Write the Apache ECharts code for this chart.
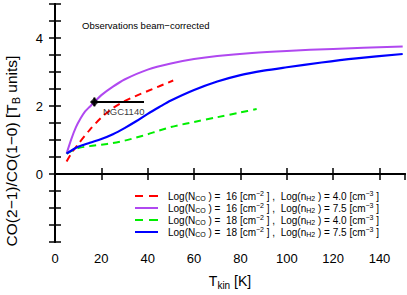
<!DOCTYPE html>
<html>
<head>
<meta charset="utf-8">
<script src="https://cdn.jsdelivr.net/npm/echarts@6/dist/echarts.min.js"></script>
<style>
html,body{margin:0;padding:0;background:#fff;}
#c{width:407px;height:295px;}
</style>
</head>
<body>
<div id="c"></div>
<script>
// ---- data ----
var redT   = [5, 7, 10, 15, 20, 25, 30, 35, 40, 45, 51];
var redV   = [0.37, 0.6, 0.88, 1.3, 1.66, 1.94, 2.14, 2.3, 2.44, 2.58, 2.75];

var purpleT = [5, 7, 9, 11, 13, 15, 17, 20, 25, 30, 40, 50, 60, 70, 85, 100, 120, 150];
var purpleV = [0.6, 1.02, 1.37, 1.63, 1.84, 1.98, 2.12, 2.32, 2.57, 2.78, 3.07, 3.25, 3.38, 3.47, 3.56, 3.62, 3.68, 3.75];

var greenT = [5, 10, 15, 20, 25, 30, 35, 40, 45, 50, 55, 60, 70, 80, 87];
var greenV = [0.6, 0.76, 0.82, 0.86, 0.91, 0.98, 1.07, 1.17, 1.28, 1.38, 1.46, 1.53, 1.67, 1.81, 1.91];

var blueT  = [5, 10, 15, 20, 25, 30, 35, 40, 45, 50, 60, 70, 80, 90, 100, 115, 130, 150];
var blueV  = [0.6, 0.8, 0.92, 1.03, 1.17, 1.35, 1.55, 1.77, 1.97, 2.16, 2.47, 2.72, 2.91, 3.04, 3.14, 3.28, 3.4, 3.53];

var logN   = ['16', '16', '18', '18'];
var logn   = ['4.0', '7.5', '4.0', '7.5'];

var obsName = 'NGC1140';
var obsT = 17, obsV = 2.12;
var obsTlo = 15.7, obsThi = 38.4;
var obsVlo = 1.99, obsVhi = 2.25;

var yLabels = [0, 2, 4];
var xLabels = [0, 20, 40, 60, 80, 100, 120, 140];

// ---- build ----
function pairs(t, v){ return t.map(function(x,i){ return [x, v[i]]; }); }
var names = logN.map(function(n,i){ return 'Log(NCO) = ' + n + ', Log(nH2) = ' + logn[i]; });
var dashedIcon = 'path://M0,0h8v2h-8zM14,0h9v2h-9z';
var solidIcon = 'path://M0,0h23v2h-23z';
var legendData = names.map(function(n,i){ return {name:n, icon: (i % 2 === 0) ? dashedIcon : solidIcon}; });

var FONT = 'Liberation Sans, Arial, Helvetica, sans-serif';
var chart = echarts.init(document.getElementById('c'), null, {renderer:'svg'});

function lineSeries(idx, t, v, color, dashed, w){
  return {
    type:'line', name:names[idx], data:pairs(t,v), smooth:0.3, symbol:'none',
    xAxisIndex:0, yAxisIndex:0,
    lineStyle:{color:color, width:w, type: dashed ? [7,5] : 'solid'},
    itemStyle:{color:color}, silent:true, z:3
  };
}

var axisLineStyle = {show:true, lineStyle:{color:'#000', width:2}};
var tick = {show:true, inside:true, length:6, lineStyle:{color:'#000', width:1.5}};

var option = {
  animation:false,
  backgroundColor:'#fff',
  textStyle:{fontFamily:FONT},
  title:{
    text:'Observations beam\u2212corrected', left:77, top:15,
    textStyle:{fontSize:9.5, fontWeight:'normal', color:'#000', fontFamily:FONT}
  },
  graphic:[{
    type:'text', x:11, y:151, rotation:Math.PI/2, silent:true,
    style:{
      text:'CO(2\u22121)/CO(1\u22120) [T{sub|B} units]',
      fontSize:15.5, fontFamily:FONT, fill:'#000', align:'center', verticalAlign:'middle', lineHeight:20,
      rich:{sub:{fontSize:11, verticalAlign:'bottom', lineHeight:20, fontFamily:FONT, fill:'#000'}}
    }
  }],
  grid:{left:55, right:2, top:4, bottom:48, containLabel:false},
  xAxis:[{
    type:'value', min:0, max:151, interval:20, position:'bottom',
    axisLine:axisLineStyle, axisTick:tick, splitLine:{show:false},
    axisLabel:{color:'#000', fontSize:13, margin:10, fontFamily:FONT, showMaxLabel:false,
      formatter:function(v){ return xLabels.indexOf(v) >= 0 ? String(v) : ''; }},
    name:'T{sub|kin} [K]', nameLocation:'middle', nameGap:30,
    nameTextStyle:{color:'#000', fontSize:14, fontFamily:FONT, lineHeight:18,
      rich:{sub:{fontSize:10, verticalAlign:'bottom', lineHeight:18, fontFamily:FONT, color:'#000'}}}
  },{
    type:'value', min:0, max:151, interval:20, position:'top',
    axisLine:axisLineStyle, axisTick:tick, splitLine:{show:false}, axisLabel:{show:false}
  }],
  yAxis:[{
    type:'value', min:-2, max:5, interval:0.5, position:'left',
    axisLine:axisLineStyle, axisTick:tick, splitLine:{show:false},
    axisLabel:{color:'#000', fontSize:13, margin:12, fontFamily:FONT,
      formatter:function(v){ return yLabels.indexOf(v) >= 0 ? String(v) : ''; }}
  },{
    type:'value', min:-2, max:5, interval:0.5, position:'right',
    axisLine:axisLineStyle, axisTick:tick, splitLine:{show:false}, axisLabel:{show:false}
  }],
  legend:{
    data:legendData, orient:'vertical', left:130, top:185,
    itemWidth:23, itemHeight:2, itemGap:0,
    formatter:function(name){
      var i = names.indexOf(name);
      return 'Log(N{sub|CO} ) =  ' + logN[i] + ' [cm{sup|\u22122} ] ,  Log(n{sub|H2} ) = ' + logn[i] + ' [cm{sup|\u22123} ]';
    },
    textStyle:{color:'#000', fontSize:10, fontFamily:FONT, lineHeight:12, padding:[0,0,0,5],
      rich:{
        sub:{fontSize:7, verticalAlign:'bottom', lineHeight:12, fontFamily:FONT, color:'#000'},
        sup:{fontSize:7, verticalAlign:'top', lineHeight:12, fontFamily:FONT, color:'#000'}
      }}
  },
  series:[
    lineSeries(0, redT, redV, '#ff0000', true, 2),
    lineSeries(1, purpleT, purpleV, '#b048f0', false, 2),
    lineSeries(2, greenT, greenV, '#00ee00', true, 2),
    lineSeries(3, blueT, blueV, '#0000ff', false, 2.2),
    {type:'line', name:'errx', data:[[obsTlo, obsV],[obsThi, obsV]], symbol:'none', silent:true,
      lineStyle:{color:'#000', width:2}, z:5},
    {type:'line', name:'erry', data:[[obsT, obsVlo],[obsT, obsVhi]], symbol:'none', silent:true,
      lineStyle:{color:'#000', width:2}, z:5},
    {type:'scatter', name:'obs', data:[[obsT, obsV]], symbol:'diamond', symbolSize:9, silent:true,
      itemStyle:{color:'#000'}, z:6,
      label:{show:true, position:'right', distance:4, offset:[0,10], formatter:obsName,
        fontSize:9.5, color:'#000', fontFamily:FONT}}
  ]
};
chart.setOption(option);
</script>
</body>
</html>
